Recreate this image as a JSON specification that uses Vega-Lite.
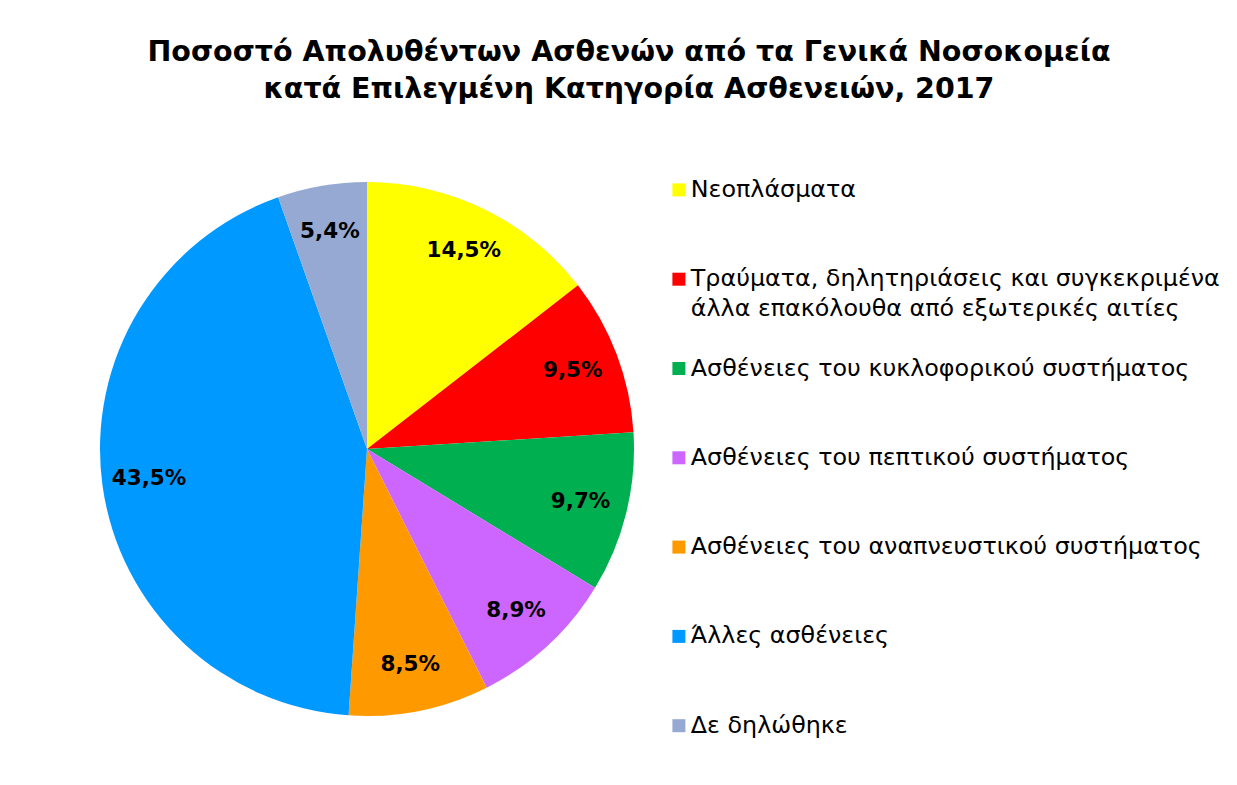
{
  "$schema": "https://vega.github.io/schema/vega-lite/v6.json",
  "width": 734,
  "height": 898,
  "autosize": {"type": "none"},
  "padding": {"left": 0, "top": 0, "right": 503, "bottom": 0},
  "background": "white",
  "config": {
    "view": {"stroke": null},
    "locale": {"number": {"decimal": ",", "thousands": ".", "grouping": [3], "currency": ["", " €"]}}
  },
  "title": {
    "text": ["Ποσοστό Απολυθέντων Ασθενών από τα Γενικά Νοσοκομεία", "κατά Επιλεγμένη Κατηγορία Ασθενειών, 2017"],
    "font": "DejaVu Sans",
    "fontSize": 28.5,
    "fontWeight": "bold",
    "color": "black",
    "anchor": "middle",
    "dx": 262,
    "offset": -103,
    "lineHeight": 37
  },
  "data": {
    "values": [
      {"rank": 1, "category": "Νεοπλάσματα", "share": 0.145},
      {"rank": 2, "category": "Τραύματα, δηλητηριάσεις και συγκεκριμένα άλλα επακόλουθα από εξωτερικές αιτίες", "share": 0.095},
      {"rank": 3, "category": "Ασθένειες του κυκλοφορικού συστήματος", "share": 0.097},
      {"rank": 4, "category": "Ασθένειες του πεπτικού συστήματος", "share": 0.089},
      {"rank": 5, "category": "Ασθένειες του αναπνευστικού συστήματος", "share": 0.085},
      {"rank": 6, "category": "Άλλες ασθένειες", "share": 0.435},
      {"rank": 7, "category": "Δε δηλώθηκε", "share": 0.054}
    ]
  },
  "encoding": {
    "theta": {"field": "share", "type": "quantitative", "stack": true},
    "order": {"field": "rank", "type": "quantitative"}
  },
  "layer": [
    {
      "mark": {"type": "arc", "outerRadius": 267},
      "encoding": {
        "color": {
          "field": "category",
          "type": "nominal",
          "scale": {
            "domain": ["Νεοπλάσματα", "Τραύματα, δηλητηριάσεις και συγκεκριμένα άλλα επακόλουθα από εξωτερικές αιτίες", "Ασθένειες του κυκλοφορικού συστήματος", "Ασθένειες του πεπτικού συστήματος", "Ασθένειες του αναπνευστικού συστήματος", "Άλλες ασθένειες", "Δε δηλώθηκε"],
            "range": ["#FFFF00", "#FF0000", "#00B050", "#CC66FF", "#FF9900", "#0099FF", "#95A9D3"]
          },
          "legend": {
            "title": null,
            "orient": "none",
            "legendX": 667,
            "legendY": 178,
            "padding": 0,
            "symbolType": "square",
            "symbolSize": 169,
            "symbolStrokeWidth": 0,
            "symbolOpacity": 1,
            "labelFont": "DejaVu Sans",
            "labelFontSize": 23.8,
            "labelColor": "black",
            "labelLimit": 0,
            "labelOffset": 0,
            "rowPadding": 34.3,
            "gridAlign": "all",
            "labelExpr": "indexof(datum.label, 'Τραύματα') == 0 ? ['Τραύματα, δηλητηριάσεις και συγκεκριμένα', 'άλλα επακόλουθα από εξωτερικές αιτίες'] : datum.label",
            "encode": {"labels": {"update": {"lineHeight": {"value": 30}}}}
          }
        }
      }
    },
    {
      "mark": {"type": "text", "radius": 220, "font": "DejaVu Sans", "fontSize": 21.5, "fontWeight": "bold", "color": "black"},
      "encoding": {
        "detail": {"field": "category", "type": "nominal"},
        "text": {"field": "share", "type": "quantitative", "format": ".1%"}
      }
    }
  ]
}
